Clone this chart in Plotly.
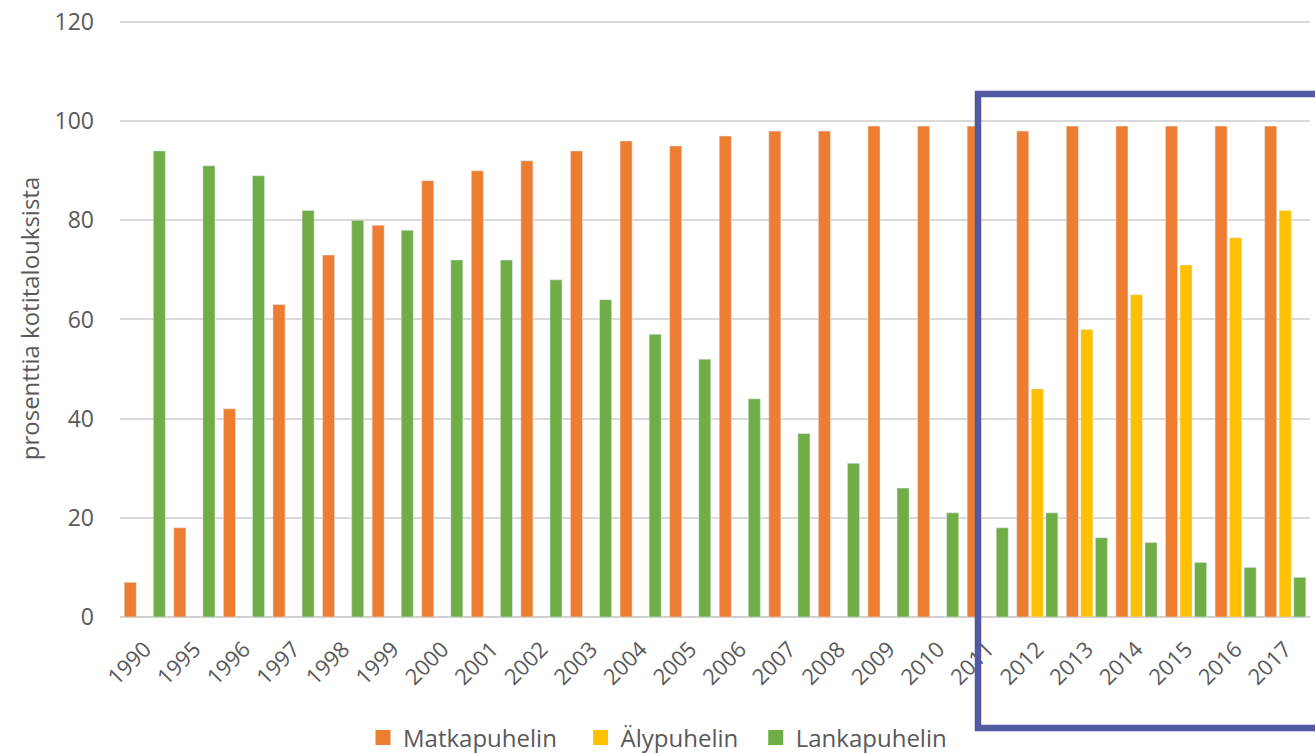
import plotly.graph_objects as go

years = ["1990", "1995", "1996", "1997", "1998", "1999", "2000", "2001", "2002", "2003",
         "2004", "2005", "2006", "2007", "2008", "2009", "2010", "2011", "2012", "2013",
         "2014", "2015", "2016", "2017"]
matkapuhelin = [7, 18, 42, 63, 73, 79, 88, 90, 92, 94, 96, 95, 97, 98, 98, 99, 99, 99, 98, 99,
                99, 99, 99, 99]
alypuhelin = [None] * 18 + [46, 58, 65, 71, 76.5, 82]
lankapuhelin = [94, 91, 89, 82, 80, 78, 72, 72, 68, 64, 57, 52, 44, 37, 31, 26, 21, 18, 21, 16,
                15, 11, 10, 8]
series_names = ["Matkapuhelin", "Älypuhelin", "Lankapuhelin"]
series_colors = ["#ED7D31", "#FFC000", "#70AD47"]
y_ticks = [0, 20, 40, 60, 80, 100, 120]

FONT = "Open Sans"
GREY = "#595959"
NBSP = "\u00a0"
legend_pad = [3, 2, 0]

fig = go.Figure()
for name, vals, col in zip(series_names, [matkapuhelin, alypuhelin, lankapuhelin], series_colors):
    fig.add_bar(x=years, y=vals, name=name, marker_color=col, showlegend=False)
# legend entries with larger square symbols
for name, col, pad in zip(series_names, series_colors, legend_pad):
    fig.add_scatter(x=[None], y=[None], mode="markers", name=name + NBSP * pad,
                    marker=dict(symbol="square", size=15, color=col), hoverinfo="skip")

fig.update_layout(
    width=1315, height=753,
    margin=dict(l=120, r=5, t=20, b=136, autoexpand=False),
    paper_bgcolor="white", plot_bgcolor="white",
    barmode="group", bargap=0.12, bargroupgap=0.17,
    font=dict(family=FONT, color=GREY, size=17),
    showlegend=True,
    legend=dict(orientation="h", x=0.5, xref="container", xanchor="center",
                y=0.02, yref="container", yanchor="middle",
                font=dict(size=24, color=GREY), itemwidth=30, traceorder="normal"),
    xaxis=dict(type="category", tickangle=-45, tickfont=dict(size=22, color=GREY),
               showgrid=False, showline=False, ticks="", automargin=False,
               ticklabelstandoff=14),
    yaxis=dict(range=[0, 120.4], tickvals=y_ticks, tickfont=dict(size=23, color=GREY),
               showgrid=True, gridcolor="#D9D9D9", gridwidth=1.5, zeroline=True,
               zerolinecolor="#D0D0D0", zerolinewidth=1.5, ticks="", ticklabelstandoff=25,
               automargin=False,
               title=dict(text="prosenttia kotitalouksista", font=dict(size=24, color=GREY),
                          standoff=8)),
    shapes=[dict(type="rect", xref="paper", yref="paper",
                 x0=0.7210, x1=1.02, y0=-0.1860, y1=0.876,
                 line=dict(color="#5258A2", width=6.5), fillcolor="rgba(0,0,0,0)",
                 layer="above")],
)

fig.write_html("out.html", config={"displayModeBar": False},
               post_script="document.body.style.margin='0px';")
